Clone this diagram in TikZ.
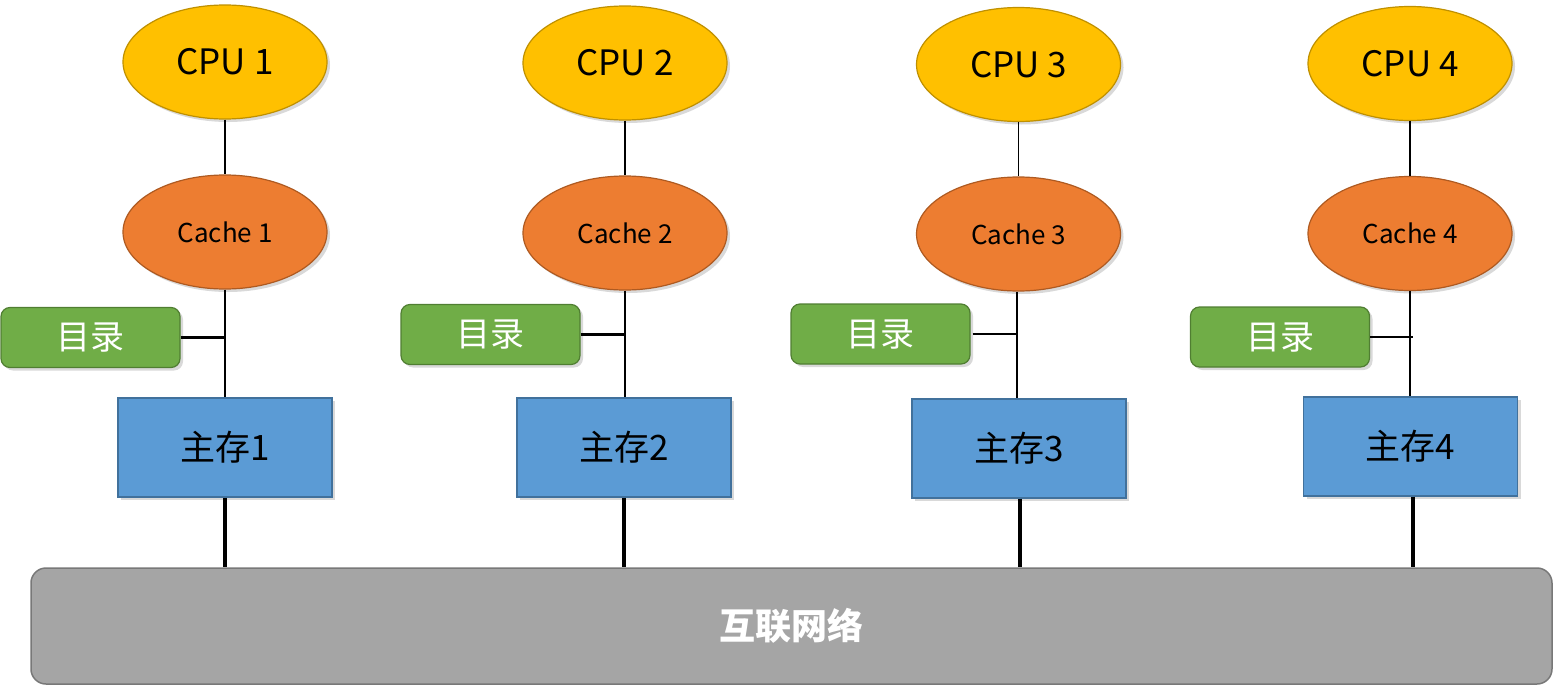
\documentclass[tikz,border=0pt]{standalone}
\usepackage{fontspec}
\setmainfont{Noto Sans CJK SC}
\newfontfamily\cjk{Noto Sans CJK SC}
\usetikzlibrary{shapes.geometric,shadows}
\definecolor{cpuF}{HTML}{FFC000}
\definecolor{cpuD}{HTML}{BF9000}
\definecolor{cacheF}{HTML}{ED7D31}
\definecolor{cacheD}{HTML}{AE5A21}
\definecolor{dirF}{HTML}{70AD47}
\definecolor{dirD}{HTML}{507E32}
\definecolor{memF}{HTML}{5B9BD5}
\definecolor{memD}{HTML}{41719C}
\definecolor{busF}{HTML}{A5A5A5}
\definecolor{busD}{HTML}{787878}
\tikzset{
  shad/.style={drop shadow={opacity=0.25,shadow xshift=3pt,shadow yshift=-3pt,fill=black!60}},
  cpunode/.style={ellipse,draw=cpuD,fill=cpuF,line width=1.2pt,minimum width=204pt,minimum height=114pt,inner sep=0pt,font=\fontsize{35}{40}\selectfont,shad},
  cachenode/.style={ellipse,draw=cacheD,fill=cacheF,line width=1.2pt,minimum width=204pt,minimum height=114pt,inner sep=0pt,font=\fontsize{26}{30}\selectfont,shad},
  dirnode/.style={rectangle,rounded corners=9pt,draw=dirD,fill=dirF,line width=1.2pt,minimum width=179pt,minimum height=60pt,inner sep=0pt,text=white,font=\fontsize{34}{40}\selectfont,shad},
  memnode/.style={rectangle,draw=memD,fill=memF,line width=1.2pt,minimum width=214pt,minimum height=99pt,inner sep=0pt,font=\fontsize{35}{40}\selectfont,shad},
  busnode/.style={rectangle,rounded corners=15pt,draw=busD,fill=busF,line width=1.5pt,minimum width=1521pt,minimum height=116pt,inner sep=0pt,text=white,font=\fontsize{36}{40}\selectfont\bfseries},
  thinline/.style={line width=1.5pt},
  midline/.style={line width=2.5pt},
  thickline/.style={line width=4pt}
}
\begin{document}
\begin{tikzpicture}[x=1pt,y=-1pt]
\useasboundingbox (0,0) rectangle (1553,685);
% bus
\node[busnode] (bus) at (791.5,626) {互联网络};
% group 1
\node[cpunode] (cpu1) at (225,62) {CPU 1};
\node[cachenode] (cache1) at (225,232) {Cache 1};
\node[dirnode] (dir1) at (90.5,337.5) {目录};
\node[memnode] (mem1) at (225,447.5) {主存1};
% group 2
\node[cpunode] (cpu2) at (625,63) {CPU 2};
\node[cachenode] (cache2) at (625,233) {Cache 2};
\node[dirnode] (dir2) at (490.5,334.5) {目录};
\node[memnode] (mem2) at (624,447.5) {主存2};
% group 3
\node[cpunode] (cpu3) at (1018.5,64.5) {CPU 3};
\node[cachenode] (cache3) at (1018.5,234) {Cache 3};
\node[dirnode] (dir3) at (880.5,334) {目录};
\node[memnode] (mem3) at (1019,448.5) {主存3};
% group 4
\node[cpunode] (cpu4) at (1410,63.5) {CPU 4};
\node[cachenode] (cache4) at (1410,233.5) {Cache 4};
\node[dirnode] (dir4) at (1280,337) {目录};
\node[memnode] (mem4) at (1410.5,446.5) {主存4};
% connectors
\foreach \i in {1,2,3,4}{
  \draw[thinline] (cpu\i.south) -- (cache\i.north);
}
\draw[midline] (cache1.south) -- (mem1.north -| cache1.south);
\draw[midline] (cache2.south) -- (mem2.north -| cache2.south);
\draw[midline] ([xshift=-1.5pt]cache3.south) -- ([xshift=-1.5pt]mem3.north -| cache3.south);
\draw[midline] (cache4.south) -- (mem4.north -| cache4.south);
\draw[midline] (dir1.east) -- (dir1.east -| cache1.south);
\draw[midline] (dir2.east) -- (dir2.east -| cache2.south);
\draw[midline] ([xshift=2pt]dir3.east) -- ([xshift=-1.5pt]dir3.east -| cache3.south);
\draw[midline] (dir4.east) -- ([xshift=3pt]dir4.east -| cache4.south);
\draw[thickline] (mem1.south) -- (mem1.south |- bus.north);
\draw[thickline] (mem2.south) -- (mem2.south |- bus.north);
\draw[thickline] ([xshift=1pt]mem3.south) -- ([xshift=1pt]mem3.south |- bus.north);
\draw[thickline] ([xshift=2pt]mem4.south) -- ([xshift=2pt]mem4.south |- bus.north);
\end{tikzpicture}
\end{document}
